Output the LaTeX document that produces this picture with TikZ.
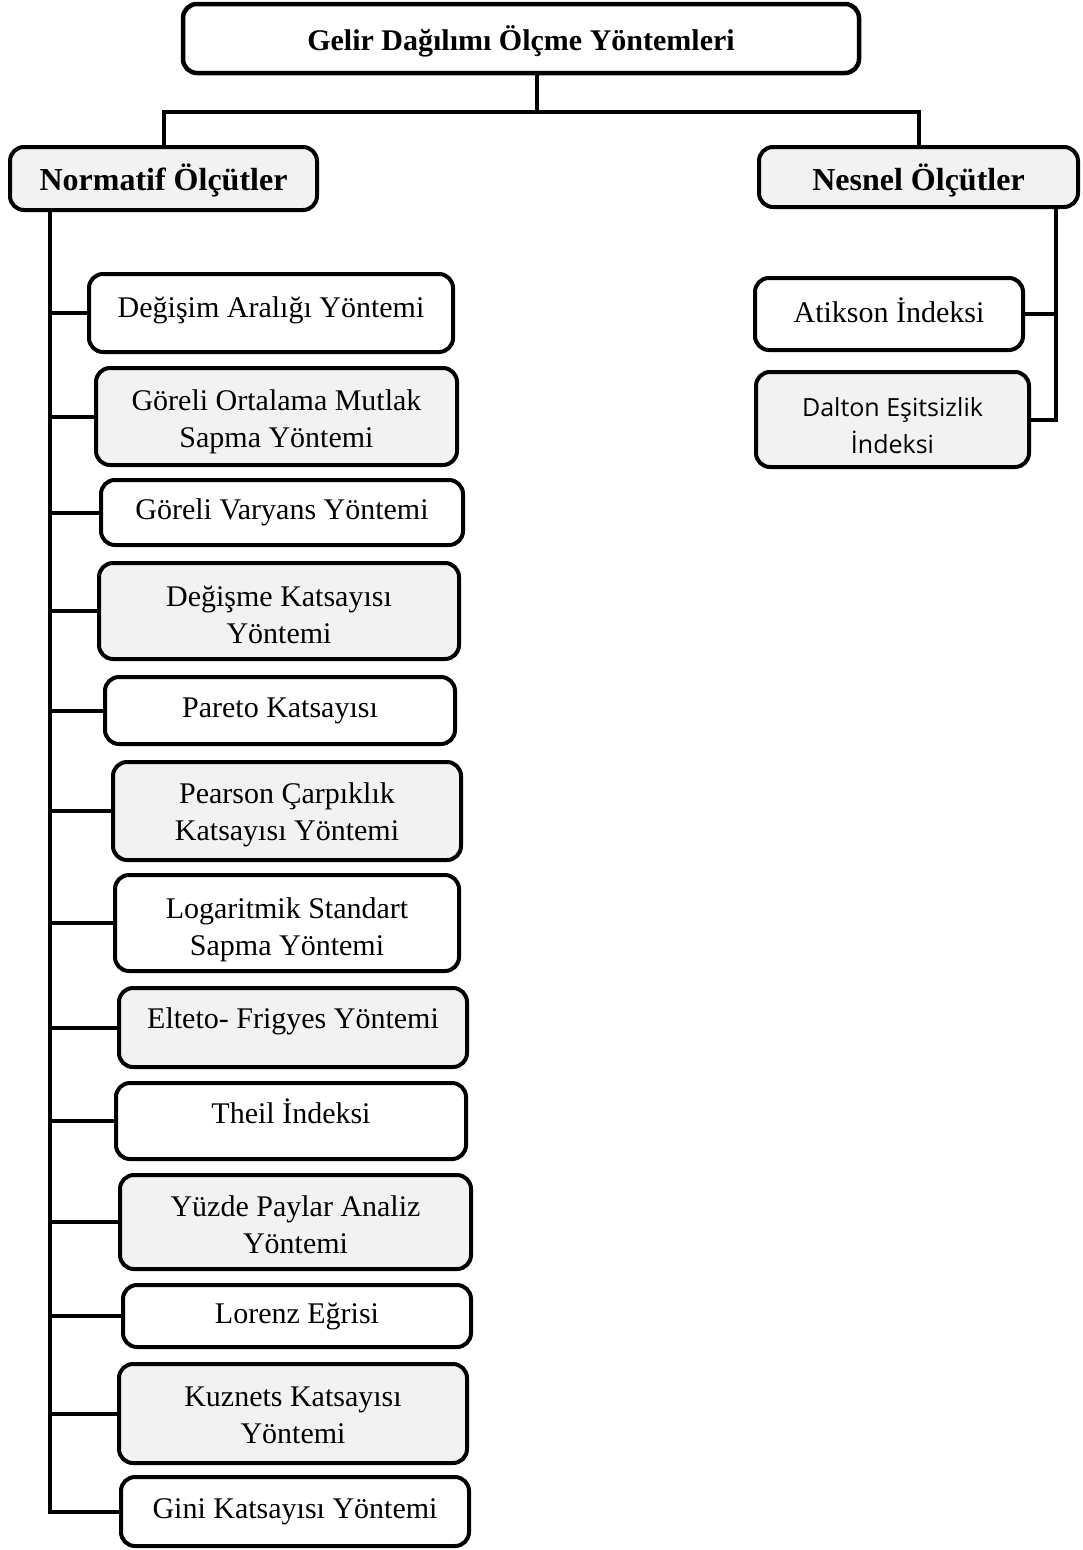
\documentclass[tikz,border=0pt]{standalone}
\usepackage{fontspec}
\setmainfont{Liberation Serif}
\newfontfamily\uisans{Open Sans}
\usetikzlibrary{calc}
\definecolor{boxgray}{HTML}{F2F2F2}
% invisible strut that lowers the text block of a two-line box
\newcommand\topgap[1]{\rule{0pt}{#1pt}}
\begin{document}
\begin{tikzpicture}[x=1pt,y=-1pt,
  base/.style={draw=black, line width=4pt, rounded corners=14pt, align=center,
    inner sep=0pt, font=\fontsize{30}{37}\selectfont},
  wbox/.style={base, fill=white},
  gbox/.style={base, fill=boxgray},
  head/.style={base, font=\fontsize{30}{37}\selectfont\bfseries},
  subhead/.style={base, fill=boxgray, font=\fontsize{32}{38}\selectfont\bfseries},
  lift/.style={text height=21pt, text depth=#1},
  link/.style={line width=4pt, line cap=rect},
  sz/.style 2 args={minimum width=#1pt, minimum height=#2pt}]
\useasboundingbox (0,0) rectangle (1082,1550);

% top level
\node[head, fill=white, line width=4.5pt, sz={676}{69}, text height=23pt, text depth=0pt] (title) at (521,38.5) {Gelir Dağılımı Ölçme Yöntemleri};
\node[subhead, sz={307}{63}, text height=24pt, text depth=0pt] (norm) at (163.5,178.5) {Normatif Ölçütler};
\node[subhead, sz={319}{60}, text height=27pt, text depth=0pt] (nes) at (918.5,177) {Nesnel Ölçütler};

% normative measures
\node[wbox, sz={364}{78}, lift=13pt] (b1) at (271,313) {Değişim Aralığı Yöntemi};
\node[gbox, sz={361}{97}] (b2) at (276.5,416.5) {\topgap{31}Göreli Ortalama Mutlak\\Sapma Yöntemi};
\node[wbox, sz={362}{65}] (b3) at (282,512.5) {Göreli Varyans Yöntemi};
\node[gbox, sz={360}{96}] (b4) at (279,611) {\topgap{29}Değişme Katsayısı\\Yöntemi};
\node[wbox, sz={350}{67}] (b5) at (280,710.5) {Pareto Katsayısı};
\node[gbox, sz={348}{98}] (b6) at (287,811) {\topgap{29}Pearson Çarpıklık\\Katsayısı Yöntemi};
\node[wbox, sz={344}{96}] (b7) at (287,923) {\topgap{35}Logaritmik Standart\\Sapma Yöntemi};
\node[gbox, sz={348}{79}, lift=20pt] (b8) at (293,1027.5) {Elteto- Frigyes Yöntemi};
\node[wbox, sz={350}{76}, lift=17pt] (b9) at (291,1121) {Theil İndeksi};
\node[gbox, sz={351}{94}] (b10) at (295.5,1222) {\topgap{27}Yüzde Paylar Analiz\\Yöntemi};
\node[wbox, sz={348}{62}] (b11) at (297,1316) {Lorenz Eğrisi};
\node[gbox, sz={348}{99}] (b12) at (293,1413.5) {\topgap{24}Kuznets Katsayısı\\Yöntemi};
\node[wbox, sz={348}{69}, lift=8pt] (b13) at (295,1511.5) {Gini Katsayısı Yöntemi};

% objective measures
\node[wbox, sz={268}{72}, lift=5pt] (atk) at (889,314) {Atikson İndeksi};
\node[gbox, sz={273}{95}, font=\fontsize{25}{37}\selectfont\uisans] (dal) at (892.5,419.5) {\topgap{31}Dalton Eşitsizlik\\İndeksi};

% connectors from the title
\coordinate (hub) at (537,112);
\draw[link, line width=3.5pt] (title.south -| hub) -- (hub);
\draw[link] (norm.north) |- (hub) -| (nes.north);

% left spine and its branches
\coordinate (ls) at ($(norm.south west)+(42,0)$);
\draw[link] (ls) |- (b13.west);
\foreach \b in {b1,b2,b3,b4,b5,b6,b7,b8,b9,b10,b11,b12}
  \draw[link] (ls |- \b.west) -- (\b.west);

% right spine and its branches
\coordinate (rs) at ($(nes.south east)+(-24,0)$);
\draw[link] (rs) |- (dal.east);
\draw[link] (atk.east) -- (atk.east -| rs);
\end{tikzpicture}
\end{document}
